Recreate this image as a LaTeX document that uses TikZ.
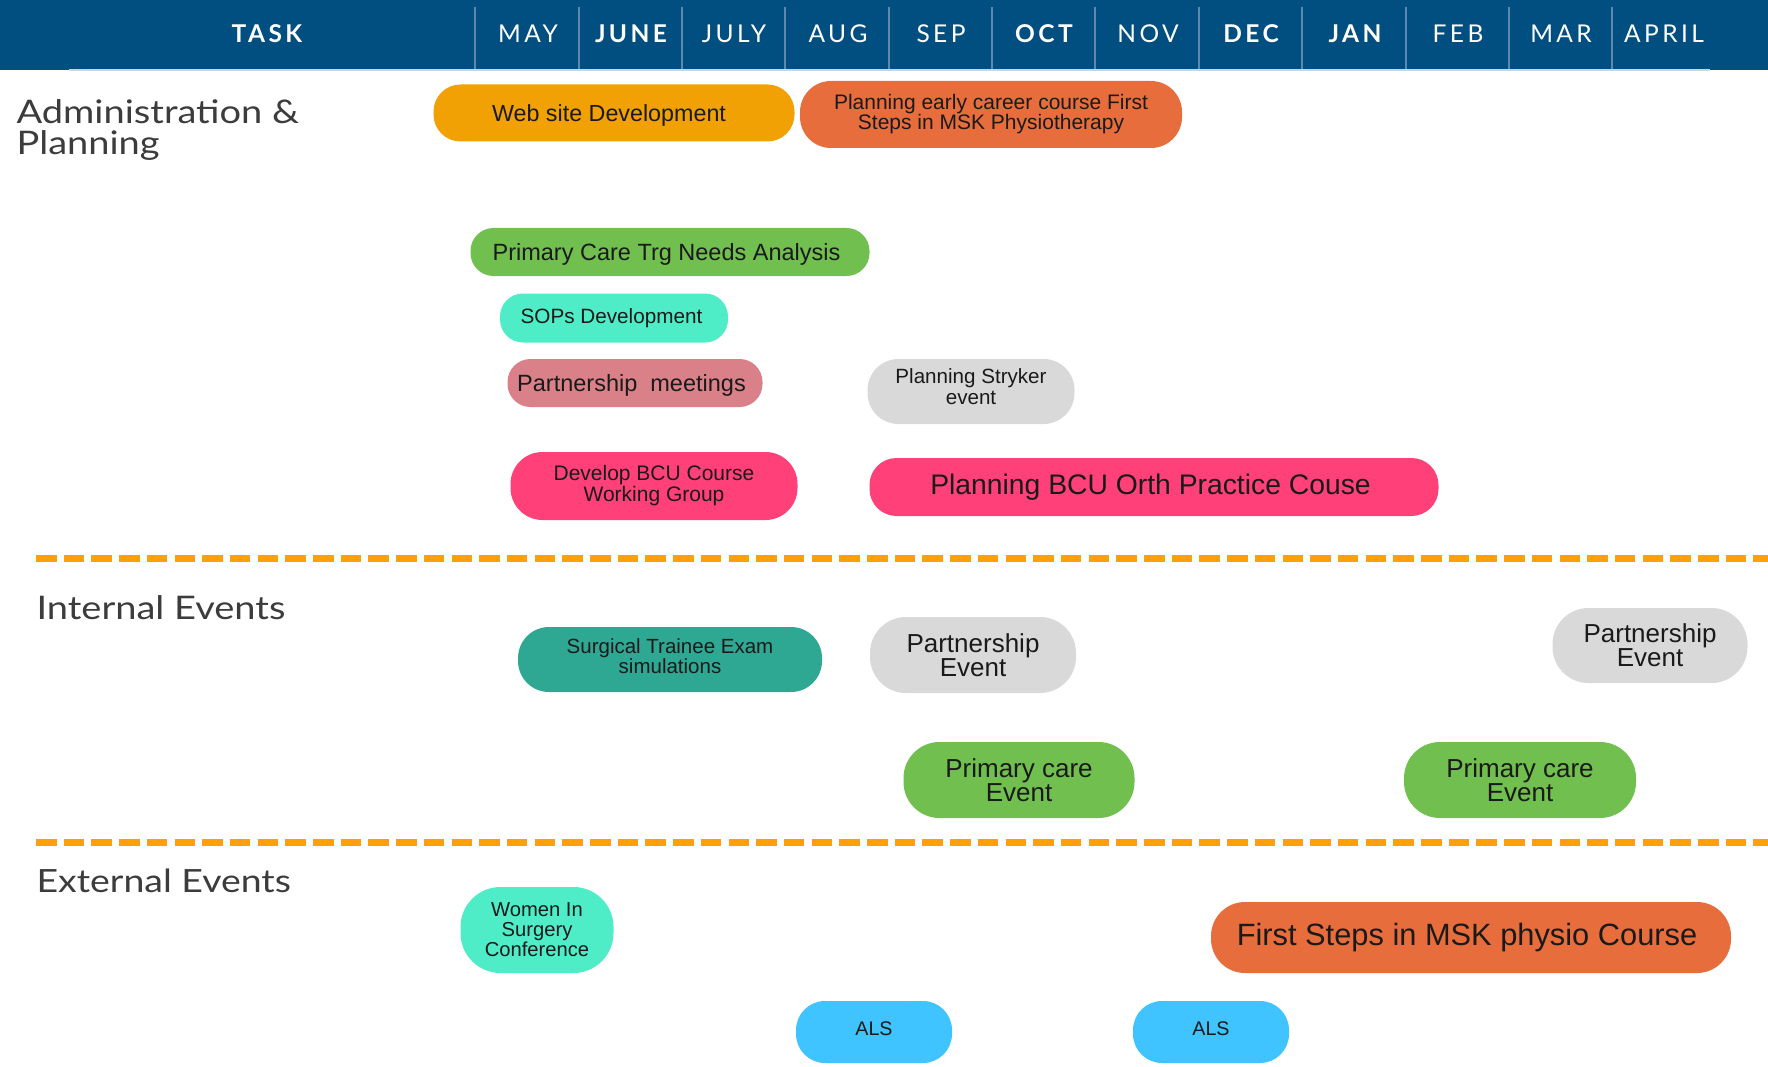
\documentclass[tikz,border=0pt]{standalone}
\usepackage{fontspec}
\setmainfont{Liberation Sans}
\newfontfamily\labfont[FakeStretch=1.17]{Lato}
\newfontfamily\monfont[LetterSpace=14]{Lato}
\definecolor{hdr}{HTML}{004F80}
\definecolor{sepline}{HTML}{5E88AC}
\definecolor{uline}{HTML}{C9D5DF}
\definecolor{dashorange}{HTML}{FFA00A}
\definecolor{labtext}{HTML}{3C3C3C}
\definecolor{boxtext}{HTML}{1A1A1A}
\definecolor{cyel}{HTML}{F2A104}
\definecolor{cred}{HTML}{E86D3D}
\definecolor{cgrn}{HTML}{70BF4F}
\definecolor{cmint}{HTML}{4FEDC7}
\definecolor{cpink}{HTML}{D98088}
\definecolor{cgrey}{HTML}{D9D9D9}
\definecolor{chot}{HTML}{FF4079}
\definecolor{cteal}{HTML}{2FA893}
\definecolor{csky}{HTML}{40C4FF}
\begin{document}
\begin{tikzpicture}[x=1pt,y=-1pt,
  pill/.style={inner sep=0pt, align=center, text=boxtext, rounded corners=27pt},
  month/.style={text=white, anchor=base, font=\monfont\fontsize{24.5}{26}\selectfont},
  monthb/.style={month, font=\monfont\bfseries\fontsize{24.5}{26}\selectfont},
  section/.style={text=labtext, anchor=base west, align=left},
  sepstyle/.style={draw=sepline, line width=1.5pt},
  divider/.style={draw=dashorange, line width=7pt, dash pattern=on 20.5pt off 7.2pt}
]
\useasboundingbox (0,0) rectangle (1768,1067);
\fill[white] (0,0) rectangle (1768,1067);
% header band
\fill[hdr] (0,0) rectangle (1768,70);
\coordinate (ula) at (69,70.5);
\coordinate (ulb) at (1710,70.5);
\draw[uline, line width=2pt] (ula) -- (ulb);
\foreach \i/\x in {1/475,2/579,3/682,4/785,5/889,6/992,7/1095,8/1199,9/1302,10/1406,11/1509,12/1612}{
  \coordinate (st\i) at (\x,7);
  \coordinate (sb\i) at (\x,69);
  \draw[sepstyle] (st\i) -- (sb\i);
}
\node[monthb] (task) at (267,43) {TASK};
\node[month]  (may)  at (528,43) {MAY};
\node[monthb] (jun)  at (631,43) {JUNE};
\node[month]  (jul)  at (734,43) {JULY};
\node[month]  (aug)  at (838,43) {AUG};
\node[month]  (sep)  at (941,43) {SEP};
\node[monthb] (oct)  at (1044,43) {OCT};
\node[month]  (nov)  at (1148,43) {NOV};
\node[monthb] (dec)  at (1251,43) {DEC};
\node[monthb] (jan)  at (1355,43) {JAN};
\node[month]  (feb)  at (1458,43) {FEB};
\node[month]  (mar)  at (1561,43) {MAR};
\node[month]  (apr)  at (1664,43) {APRIL};
% section labels
\node[section, font=\labfont\fontsize{32.5}{31}\selectfont] (adm) at (13,155) {Administration \&\\Planning};
\node[section, font=\labfont\fontsize{32.5}{34}\selectfont] (int) at (33,619) {Internal Events};
\node[section, font=\labfont\fontsize{32}{34}\selectfont] (ext) at (33,892) {External Events};
% dividers
\coordinate (d1a) at (36,558);
\coordinate (d1b) at (1768,558);
\coordinate (d2a) at (36,842);
\coordinate (d2b) at (1768,842);
\draw[divider] (d1a) -- (d1b);
\draw[divider] (d2a) -- (d2b);
% administration & planning
\node[pill, fill=cyel, minimum width=361pt, minimum height=57pt, text depth=0pt, font=\fontsize{23.3}{24}\selectfont] (web) at (614,113) {Web site Development\kern10pt};
\node[pill, fill=cred, minimum width=382pt, minimum height=67pt, rounded corners=31pt, font=\fontsize{21}{20}\selectfont] (early) at (991,114.5) {Planning early career course First\\Steps in MSK Physiotherapy};
\node[pill, fill=cgrn, minimum width=399pt, minimum height=48pt, rounded corners=23pt, text depth=0pt, font=\fontsize{23.5}{24}\selectfont] (trg) at (670,252) {Primary Care Trg Needs Analysis\kern7pt};
\node[pill, fill=cmint, minimum width=228pt, minimum height=49pt, rounded corners=23pt, font=\fontsize{20.7}{22}\selectfont] (sops) at (614,318) {SOPs Development\kern5pt};
\node[pill, fill=cpink, minimum width=255pt, minimum height=48pt, rounded corners=23pt, text depth=0pt, font=\fontsize{23.5}{24}\selectfont] (meet) at (635,383) {Partnership\ \ meetings\kern7pt};
\node[pill, fill=cgrey, minimum width=207pt, minimum height=65pt, rounded corners=31pt, text depth=9pt, font=\fontsize{20.6}{21}\selectfont] (stryk) at (971,391.5) {Planning Stryker\\event};
\node[pill, fill=chot, minimum width=287pt, minimum height=68pt, rounded corners=32pt, font=\fontsize{21}{21}\selectfont] (dev) at (654,486) {Develop BCU Course\\Working Group};
\node[pill, fill=chot, minimum width=569pt, minimum height=58pt, font=\fontsize{28.3}{28}\selectfont] (bcu) at (1154,487) {Planning BCU Orth Practice Couse\kern7pt};
% internal events
\node[pill, fill=cteal, minimum width=304pt, minimum height=65pt, rounded corners=31pt, text depth=7pt, font=\fontsize{20.5}{20}\selectfont] (surg) at (670,659.5) {Surgical Trainee Exam\\simulations};
\node[pill, fill=cgrey, minimum width=206pt, minimum height=76pt, rounded corners=36pt, font=\fontsize{26}{23}\selectfont] (pe1) at (973,655) {Partnership\\Event};
\node[pill, fill=cgrey, minimum width=195pt, minimum height=75pt, rounded corners=36pt, font=\fontsize{26}{23}\selectfont] (pe2) at (1650,645.5) {Partnership\\Event};
\node[pill, fill=cgrn, minimum width=231pt, minimum height=76pt, rounded corners=36pt, font=\fontsize{26}{23}\selectfont] (pc1) at (1019,780) {Primary care\\Event};
\node[pill, fill=cgrn, minimum width=232pt, minimum height=76pt, rounded corners=36pt, font=\fontsize{26}{23}\selectfont] (pc2) at (1520,780) {Primary care\\Event};
% external events
\node[pill, fill=cmint, minimum width=153pt, minimum height=86pt, rounded corners=40pt, font=\fontsize{20.2}{20}\selectfont] (wis) at (537,930) {Women In\\Surgery\\Conference};
\node[pill, fill=cred, minimum width=520pt, minimum height=71pt, rounded corners=34pt, font=\fontsize{30.8}{32}\selectfont] (fs) at (1471,937.5) {First Steps in MSK physio Course\kern8pt};
\node[pill, fill=csky, minimum width=156pt, minimum height=62pt, rounded corners=29pt, text depth=6pt, font=\fontsize{19.7}{21}\selectfont] (als1) at (874,1032) {ALS};
\node[pill, fill=csky, minimum width=156pt, minimum height=62pt, rounded corners=29pt, text depth=6pt, font=\fontsize{19.7}{21}\selectfont] (als2) at (1211,1032) {ALS};
\end{tikzpicture}
\end{document}
